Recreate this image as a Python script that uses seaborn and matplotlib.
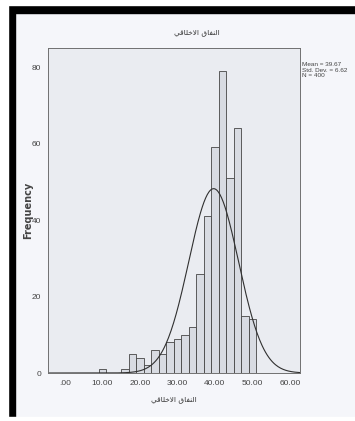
import numpy as np
import pandas as pd
import seaborn as sns
import matplotlib.pyplot as plt
from matplotlib.patches import Rectangle

bin_centers = [10, 16, 18, 20, 22, 24, 26, 28, 30, 32, 34, 36, 38, 40, 42, 44, 46, 48, 50]
counts = [1, 1, 5, 4, 2, 6, 5, 8, 9, 10, 12, 26, 41, 59, 79, 51, 64, 15, 14]
bin_edges = list(range(9, 53, 2))
x_ticks = [0, 10, 20, 30, 40, 50, 60]
x_tick_labels = ['.00', '10.00', '20.00', '30.00', '40.00', '50.00', '60.00']
y_ticks = [0, 20, 40, 60, 80]
mean, std, n = 39.67, 6.62, 400

# "النفاق الاخلاقي" já em formas de apresentação, ordem visual
titulo = '\ufef2\ufed7\ufe8e\ufee0\ufea7\ufefb\ufe8d \ufed5\ufe8e\ufed4\ufee8\ufedf\ufe8d'

dados = pd.DataFrame({'valor': bin_centers, 'freq': counts})

sns.set_style('white')
plt.rcParams['font.family'] = ['Liberation Sans Narrow', 'Liberation Sans', 'DejaVu Sans']

fig = plt.figure(figsize=(3.55, 4.21), dpi=100, facecolor='#f5f6fa')
ax = fig.add_axes([48 / 355, 1 - 373 / 421, 252 / 355, 325 / 421])
ax.set_facecolor('#eaecf1')

sns.histplot(data=dados, x='valor', weights='freq', bins=bin_edges, ax=ax,
             color='#d8dbe2', edgecolor='#454545', linewidth=0.6, alpha=1)

# Curva normal
xs = np.linspace(-4.5, 62.7, 300)
ys = n * 2 / (std * np.sqrt(2 * np.pi)) * np.exp(-0.5 * ((xs - mean) / std) ** 2)
sns.lineplot(x=xs, y=ys, ax=ax, color='#303030', linewidth=0.8)

ax.set_xlim(-4.5, 62.7)
ax.set_ylim(0, 85)
ax.set_xticks(x_ticks)
ax.set_xticklabels(x_tick_labels)
ax.set_yticks(y_ticks)
ax.tick_params(axis='both', labelsize=6, colors='#444444', length=3, width=0.6, pad=2)
for s in ax.spines.values():
    s.set_color('#707070')
    s.set_linewidth(0.7)

ax.set_xlabel(titulo, family='DejaVu Sans', fontsize=5.3, color='#333333', labelpad=7)
ax.set_ylabel('Frequency', fontsize=7, fontweight='bold', family='DejaVu Sans',
              color='#444444')
ax.yaxis.set_label_coords(-15 / 252, 0.5)
fig.text(197 / 355, 1 - 33 / 421, titulo, family='DejaVu Sans', fontsize=5.3,
         color='#333333', ha='center', va='center')
fig.text(302 / 355, 1 - 70 / 421, 'Mean = 39.67\nStd. Dev. = 6.62\nN = 400',
         fontsize=4.6, color='#444444', ha='left', va='center', linespacing=1.1)

# moldura preta da digitalização
fig.patches.append(Rectangle((8 / 355, 1 - 13 / 421), 1, 8 / 421, transform=fig.transFigure,
                             color='black', zorder=10))
fig.patches.append(Rectangle((8 / 355, 4 / 421), 7 / 355, 1 - 17 / 421, transform=fig.transFigure,
                             color='black', zorder=10))
fig.patches.append(Rectangle((0, 0), 1, 4 / 421, transform=fig.transFigure,
                             color='white', zorder=10))
fig.patches.append(Rectangle((0, 1 - 5 / 421), 1, 5 / 421, transform=fig.transFigure,
                             color='white', zorder=10))
fig.patches.append(Rectangle((0, 0), 8 / 355, 1, transform=fig.transFigure,
                             color='white', zorder=10))

fig.savefig('out.png', dpi=100, facecolor=fig.get_facecolor())
